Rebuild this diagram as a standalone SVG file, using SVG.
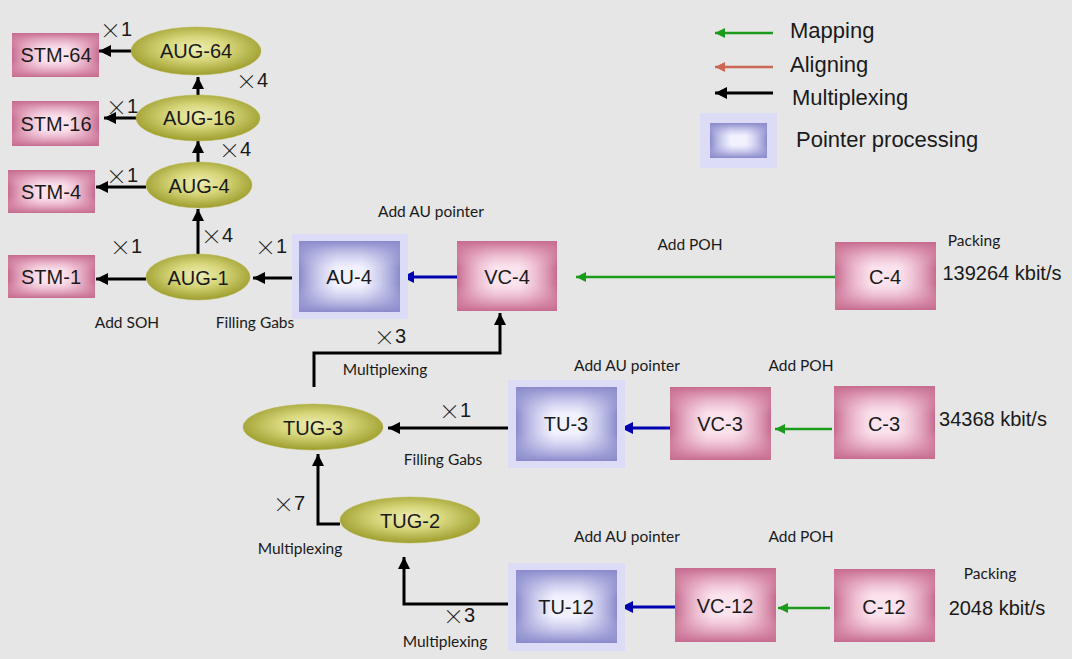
<svg xmlns="http://www.w3.org/2000/svg" width="1072" height="659" viewBox="0 0 1072 659">
<defs>
<style>
.lbl{font-family:"Liberation Sans",Arial,sans-serif;font-size:20px;fill:#1a1a1a;text-anchor:middle;dominant-baseline:central}
.sm{font-family:Lato,"Open Sans",sans-serif;font-size:15.5px;fill:#1a1a1a;text-anchor:middle;dominant-baseline:central}
.mul{font-family:"Liberation Sans",Arial,sans-serif;font-size:20px;fill:#1a1a1a;dominant-baseline:central}
.x{font-family:"Noto Sans CJK SC",sans-serif;font-size:21px;font-weight:300}
.leg{font-family:"Liberation Sans",Arial,sans-serif;font-size:22px;fill:#1a1a1a;dominant-baseline:central}
.pk{fill:url(#pinkBase)}
.pkh{fill:url(#pinkH)}
.pkv{fill:url(#pinkV)}
.bl{fill:url(#blueBase)}
.blh{fill:url(#blueH)}
.blv{fill:url(#blueV)}
.glow{fill:#dcdcf6}
.ell{fill:url(#olive);stroke:#b5b54a;stroke-width:0.5}
.k{stroke:#000;stroke-width:3;fill:none;marker-end:url(#ak)}
.b{stroke:#0000b0;stroke-width:3;fill:none;marker-end:url(#ab)}
.g{stroke:#1c9a1c;stroke-width:2.5;fill:none;marker-end:url(#ag)}
.r{stroke:#cc6655;stroke-width:2.5;fill:none;marker-end:url(#ar)}
</style>
<linearGradient id="pinkBase"><stop offset="0" stop-color="#fbe3ee"/></linearGradient>
<linearGradient id="pinkH" x1="0" y1="0" x2="1" y2="0">
<stop offset="0" stop-color="#c66b8f" stop-opacity="1"/>
<stop offset="0.38" stop-color="#e9a9c2" stop-opacity="0"/>
<stop offset="0.62" stop-color="#e9a9c2" stop-opacity="0"/>
<stop offset="1" stop-color="#c66b8f" stop-opacity="1"/>
</linearGradient>
<linearGradient id="pinkV" x1="0" y1="0" x2="0" y2="1">
<stop offset="0" stop-color="#c66b8f" stop-opacity="1"/>
<stop offset="0.38" stop-color="#e9a9c2" stop-opacity="0"/>
<stop offset="0.62" stop-color="#e9a9c2" stop-opacity="0"/>
<stop offset="1" stop-color="#c66b8f" stop-opacity="1"/>
</linearGradient>
<linearGradient id="blueBase"><stop offset="0" stop-color="#f2f2ff"/></linearGradient>
<linearGradient id="blueH" x1="0" y1="0" x2="1" y2="0">
<stop offset="0" stop-color="#8a8acb" stop-opacity="1"/>
<stop offset="0.38" stop-color="#b8b8e6" stop-opacity="0"/>
<stop offset="0.62" stop-color="#b8b8e6" stop-opacity="0"/>
<stop offset="1" stop-color="#8a8acb" stop-opacity="1"/>
</linearGradient>
<linearGradient id="blueV" x1="0" y1="0" x2="0" y2="1">
<stop offset="0" stop-color="#8a8acb" stop-opacity="1"/>
<stop offset="0.38" stop-color="#b8b8e6" stop-opacity="0"/>
<stop offset="0.62" stop-color="#b8b8e6" stop-opacity="0"/>
<stop offset="1" stop-color="#8a8acb" stop-opacity="1"/>
</linearGradient>
<radialGradient id="olive" cx="0.5" cy="0.45" r="0.55">
<stop offset="0" stop-color="#eeeeb4"/>
<stop offset="0.45" stop-color="#d6d67a"/>
<stop offset="1" stop-color="#9d9d2e"/>
</radialGradient>
<marker id="ak" markerUnits="userSpaceOnUse" markerWidth="12" markerHeight="12" refX="10" refY="5" orient="auto" viewBox="0 0 10 10"><path d="M0,0 L10,5 L0,10 Z" fill="#000"/></marker>
<marker id="ab" markerUnits="userSpaceOnUse" markerWidth="12" markerHeight="12" refX="10" refY="5" orient="auto" viewBox="0 0 10 10"><path d="M0,0 L10,5 L0,10 Z" fill="#0000b0"/></marker>
<marker id="ag" markerUnits="userSpaceOnUse" markerWidth="10" markerHeight="10" refX="10" refY="5" orient="auto" viewBox="0 0 10 10"><path d="M0,0 L10,5 L0,10 Z" fill="#1c9a1c"/></marker>
<marker id="ar" markerUnits="userSpaceOnUse" markerWidth="10" markerHeight="10" refX="10" refY="5" orient="auto" viewBox="0 0 10 10"><path d="M0,0 L10,5 L0,10 Z" fill="#cc6655"/></marker>
</defs>
<rect width="1072" height="659" fill="#e6e6e6"/>

<g id="legend">
<line class="g" x1="773" y1="33" x2="715" y2="33"/>
<text class="leg" x="790" y="30">Mapping</text>
<line class="r" x1="773" y1="67" x2="715" y2="67"/>
<text class="leg" x="790" y="64">Aligning</text>
<line class="k" stroke-width="2.5" x1="773" y1="93" x2="715" y2="93"/>
<text class="leg" x="792" y="97">Multiplexing</text>
<rect class="glow" x="700" y="113" width="77" height="55"/>
<rect class="bl" x="710" y="123" width="57" height="35"/>
<rect class="blh" x="710" y="123" width="57" height="35"/>
<rect class="blv" x="710" y="123" width="57" height="35"/>
<text class="leg" x="796" y="139">Pointer processing</text>
</g>

<g id="connectors">
<line class="k" x1="132" y1="51" x2="99" y2="51"/>
<line class="k" x1="137" y1="118" x2="104" y2="118"/>
<line class="k" x1="146" y1="187" x2="96" y2="187"/>
<line class="k" x1="146" y1="279" x2="96" y2="279"/>
<line class="k" x1="198" y1="95" x2="198" y2="77"/>
<line class="k" x1="198" y1="162" x2="198" y2="141"/>
<line class="k" x1="198" y1="254" x2="198" y2="209"/>
<line class="k" x1="298" y1="278" x2="253" y2="278"/>
<line class="b" x1="457" y1="277" x2="402" y2="277"/>
<line class="g" x1="835" y1="277" x2="576" y2="277"/>
<path class="k" d="M314,387 V353 H500 V313"/>
<line class="k" x1="514" y1="428" x2="388" y2="428"/>
<line class="b" x1="670" y1="428" x2="621" y2="428"/>
<line class="g" x1="832" y1="429" x2="775" y2="429"/>
<path class="k" d="M340,524 H318 V454"/>
<path class="k" d="M513,604 H404 V557"/>
<line class="b" x1="675" y1="607" x2="621" y2="607"/>
<line class="g" x1="830" y1="608" x2="778" y2="608"/>
</g>

<g id="stm64"><rect class="pk" x="12" y="33" width="87" height="44"/><rect class="pkh" x="12" y="33" width="87" height="44"/><rect class="pkv" x="12" y="33" width="87" height="44"/><text class="lbl" x="56" y="55">STM-64</text></g>
<g id="stm16"><rect class="pk" x="12" y="101" width="87" height="45"/><rect class="pkh" x="12" y="101" width="87" height="45"/><rect class="pkv" x="12" y="101" width="87" height="45"/><text class="lbl" x="56" y="124">STM-16</text></g>
<g id="stm4"><rect class="pk" x="8" y="170" width="87" height="43"/><rect class="pkh" x="8" y="170" width="87" height="43"/><rect class="pkv" x="8" y="170" width="87" height="43"/><text class="lbl" x="51" y="192">STM-4</text></g>
<g id="stm1"><rect class="pk" x="8" y="255" width="87" height="43"/><rect class="pkh" x="8" y="255" width="87" height="43"/><rect class="pkv" x="8" y="255" width="87" height="43"/><text class="lbl" x="51" y="277">STM-1</text></g>

<g id="aug64"><ellipse class="ell" cx="196" cy="51" rx="65" ry="24"/><text class="lbl" x="196" y="51">AUG-64</text></g>
<g id="aug16"><ellipse class="ell" cx="198" cy="118" rx="62" ry="23"/><text class="lbl" x="199" y="118">AUG-16</text></g>
<g id="aug4"><ellipse class="ell" cx="199" cy="185" rx="53" ry="23"/><text class="lbl" x="199" y="186">AUG-4</text></g>
<g id="aug1"><ellipse class="ell" cx="198" cy="277" rx="52" ry="23"/><text class="lbl" x="198" y="278">AUG-1</text></g>

<g id="au4"><rect class="glow" x="292" y="234" width="116" height="85"/><rect class="bl" x="299" y="241" width="101" height="71"/><rect class="blh" x="299" y="241" width="101" height="71"/><rect class="blv" x="299" y="241" width="101" height="71"/><text class="lbl" x="349" y="277">AU-4</text></g>
<g id="vc4"><rect class="pk" x="457" y="241" width="100" height="70"/><rect class="pkh" x="457" y="241" width="100" height="70"/><rect class="pkv" x="457" y="241" width="100" height="70"/><text class="lbl" x="507" y="277">VC-4</text></g>
<g id="c4"><rect class="pk" x="835" y="242" width="101" height="68"/><rect class="pkh" x="835" y="242" width="101" height="68"/><rect class="pkv" x="835" y="242" width="101" height="68"/><text class="lbl" x="885" y="277">C-4</text></g>

<g id="tug3"><ellipse class="ell" cx="313" cy="427" rx="70" ry="23"/><text class="lbl" x="313" y="428">TUG-3</text></g>
<g id="tu3"><rect class="glow" x="508" y="380" width="117" height="88"/><rect class="bl" x="516" y="387" width="101" height="74"/><rect class="blh" x="516" y="387" width="101" height="74"/><rect class="blv" x="516" y="387" width="101" height="74"/><text class="lbl" x="566" y="424">TU-3</text></g>
<g id="vc3"><rect class="pk" x="670" y="387" width="101" height="73"/><rect class="pkh" x="670" y="387" width="101" height="73"/><rect class="pkv" x="670" y="387" width="101" height="73"/><text class="lbl" x="720" y="424">VC-3</text></g>
<g id="c3"><rect class="pk" x="834" y="386" width="101" height="73"/><rect class="pkh" x="834" y="386" width="101" height="73"/><rect class="pkv" x="834" y="386" width="101" height="73"/><text class="lbl" x="884" y="424">C-3</text></g>

<g id="tug2"><ellipse class="ell" cx="410" cy="520" rx="70" ry="23"/><text class="lbl" x="410" y="521">TUG-2</text></g>
<g id="tu12"><rect class="glow" x="508" y="563" width="117" height="88"/><rect class="bl" x="516" y="570" width="101" height="73"/><rect class="blh" x="516" y="570" width="101" height="73"/><rect class="blv" x="516" y="570" width="101" height="73"/><text class="lbl" x="566" y="607">TU-12</text></g>
<g id="vc12"><rect class="pk" x="675" y="568" width="101" height="74"/><rect class="pkh" x="675" y="568" width="101" height="74"/><rect class="pkv" x="675" y="568" width="101" height="74"/><text class="lbl" x="725" y="606">VC-12</text></g>
<g id="c12"><rect class="pk" x="834" y="569" width="101" height="73"/><rect class="pkh" x="834" y="569" width="101" height="73"/><rect class="pkv" x="834" y="569" width="101" height="73"/><text class="lbl" x="884" y="607">C-12</text></g>

<g id="labels">
<text class="mul" x="100" y="29"><tspan class="x">×</tspan>1</text>
<text class="mul" x="236" y="80"><tspan class="x">×</tspan>4</text>
<text class="mul" x="106" y="106"><tspan class="x">×</tspan>1</text>
<text class="mul" x="219" y="149"><tspan class="x">×</tspan>4</text>
<text class="mul" x="106" y="175"><tspan class="x">×</tspan>1</text>
<text class="mul" x="201" y="235"><tspan class="x">×</tspan>4</text>
<text class="mul" x="110" y="246"><tspan class="x">×</tspan>1</text>
<text class="mul" x="255" y="246"><tspan class="x">×</tspan>1</text>
<text class="sm" x="127" y="322">Add SOH</text>
<text class="sm" x="255" y="322">Filling Gabs</text>
<text class="sm" x="431" y="211">Add AU pointer</text>
<text class="sm" x="690" y="244">Add POH</text>
<text class="sm" x="974" y="240">Packing</text>
<text class="lbl" x="1002" y="273">139264 kbit/s</text>
<text class="mul" x="374" y="336"><tspan class="x">×</tspan>3</text>
<text class="sm" x="385" y="369">Multiplexing</text>
<text class="sm" x="627" y="365">Add AU pointer</text>
<text class="sm" x="801" y="365">Add POH</text>
<text class="mul" x="439" y="410"><tspan class="x">×</tspan>1</text>
<text class="sm" x="443" y="459">Filling Gabs</text>
<text class="lbl" x="993" y="419">34368 kbit/s</text>
<text class="mul" x="273" y="503"><tspan class="x">×</tspan>7</text>
<text class="sm" x="300" y="548">Multiplexing</text>
<text class="sm" x="627" y="536">Add AU pointer</text>
<text class="sm" x="801" y="536">Add POH</text>
<text class="sm" x="990" y="573">Packing</text>
<text class="lbl" x="997" y="608">2048 kbit/s</text>
<text class="mul" x="443" y="615"><tspan class="x">×</tspan>3</text>
<text class="sm" x="445" y="641">Multiplexing</text>
</g>
</svg>
